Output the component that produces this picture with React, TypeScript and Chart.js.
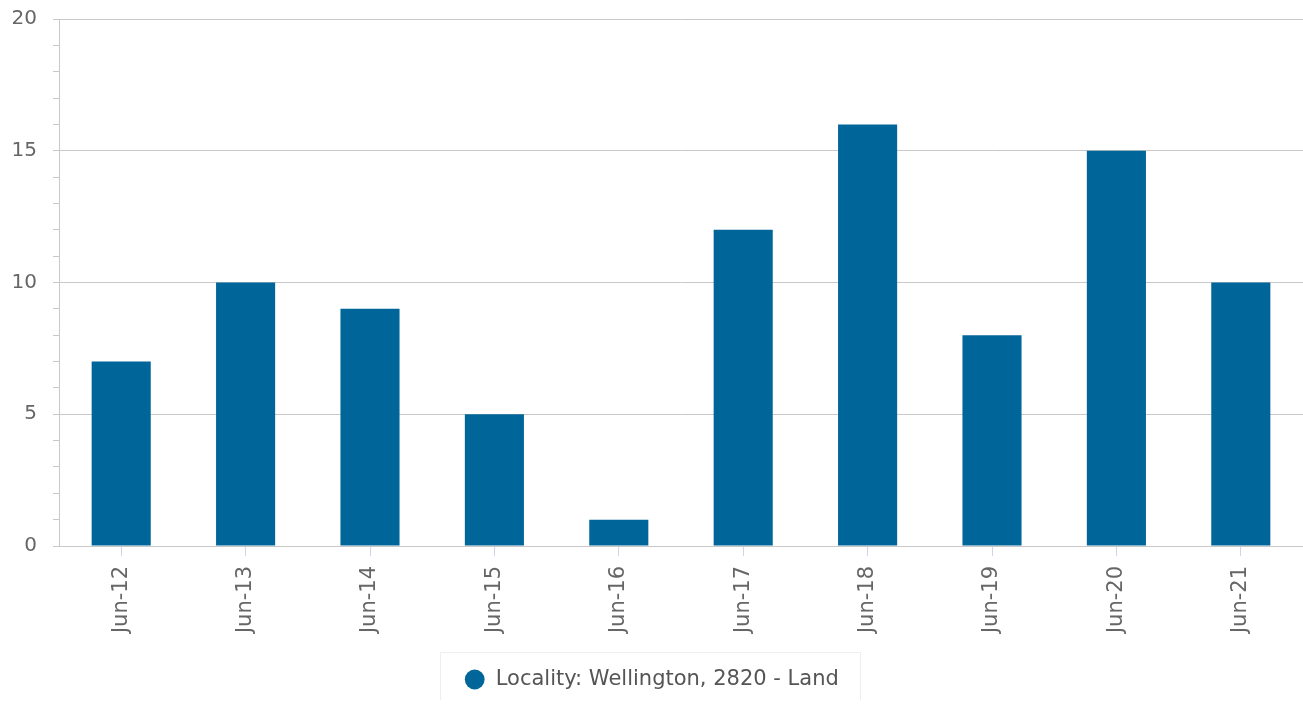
import React, { useEffect, useRef } from "react";
import { Chart, registerables } from "chart.js";

Chart.register(...registerables);

const categories = ["Jun-12", "Jun-13", "Jun-14", "Jun-15", "Jun-16", "Jun-17", "Jun-18", "Jun-19", "Jun-20", "Jun-21"];
const seriesValues = [7, 10, 9, 5, 1, 12, 16, 8, 15, 10];
const seriesLabel = "Locality: Wellington, 2820 - Land";
const yMajorTicks = [0, 5, 10, 15, 20];

const FONT = "'DejaVu Sans', Verdana, sans-serif";

const legendBoxPlugin = {
  id: "legendBox",
  afterDraw(chart: any) {
    const lg = chart.legend;
    if (!lg || !lg.legendHitBoxes || !lg.legendHitBoxes.length) return;
    const hb = lg.legendHitBoxes[0];
    const ctx = chart.ctx;
    ctx.save();
    ctx.strokeStyle = "#eeeeee";
    ctx.lineWidth = 1;
    const left = Math.round(hb.left - 24) + 0.5;
    const right = Math.round(hb.left + hb.width + 21) + 0.5;
    const top = Math.round(hb.top + hb.height / 2 - 28) + 0.5;
    ctx.strokeRect(left, top, right - left, 80);
    ctx.restore();
  },
};

export default function App() {
  const ref = useRef<HTMLCanvasElement | null>(null);
  useEffect(() => {
    if (!ref.current) return;
    const chart = new Chart(ref.current, {
      type: "bar",
      data: {
        labels: categories,
        datasets: [
          {
            label: seriesLabel,
            data: seriesValues,
            backgroundColor: "#006699",
            borderWidth: 0,
            categoryPercentage: 1,
            barPercentage: 0.475,
          },
        ],
      },
      options: {
        animation: false,
        responsive: true,
        maintainAspectRatio: false,
        layout: { padding: { top: 19, right: 0, left: 0, bottom: 0 } },
        plugins: {
          tooltip: { enabled: false },
          legend: {
            position: "bottom",
            labels: {
              usePointStyle: true,
              pointStyle: "circle",
              boxWidth: 21,
              boxHeight: 14,
              padding: 20,
              color: "#555555",
              font: { family: FONT, size: 21 },
            },
          },
        },
        scales: {
          x: {
            afterFit: (scale: any) => {
              scale.height = 103;
            },
            grid: {
              display: true,
              drawOnChartArea: false,
              offset: false,
              tickLength: 10,
              tickColor: "#ccd6eb",
            },
            border: { display: true, color: "#c8c8c8" },
            ticks: {
              minRotation: 90,
              maxRotation: 90,
              autoSkip: false,
              padding: 10,
              color: "#666666",
              font: { family: FONT, size: 21 },
            },
          },
          y: {
            min: 0,
            max: 20,
            afterFit: (scale: any) => {
              scale.width = 59;
              scale.paddingTop = 0;
              scale.paddingBottom = 0;
            },
            grid: {
              color: (c: any) => (yMajorTicks.includes(c.tick?.value) ? "#c8c8c8" : "rgba(0,0,0,0)"),
              tickColor: "#c8c8c8",
              tickLength: 6,
            },
            border: { display: true, color: "#c8c8c8" },
            ticks: {
              stepSize: 1,
              autoSkip: false,
              padding: 16,
              color: "#666666",
              font: { family: FONT, size: 20 },
              callback: (v: any) => (yMajorTicks.includes(Number(v)) ? String(v) : ""),
            },
          },
        },
      },
      plugins: [legendBoxPlugin],
    });
    return () => chart.destroy();
  }, []);
  return (
    <div style={{ position: "absolute", left: 0, top: 0, width: 1303, height: 700 }}>
      <canvas ref={ref} />
    </div>
  );
}
